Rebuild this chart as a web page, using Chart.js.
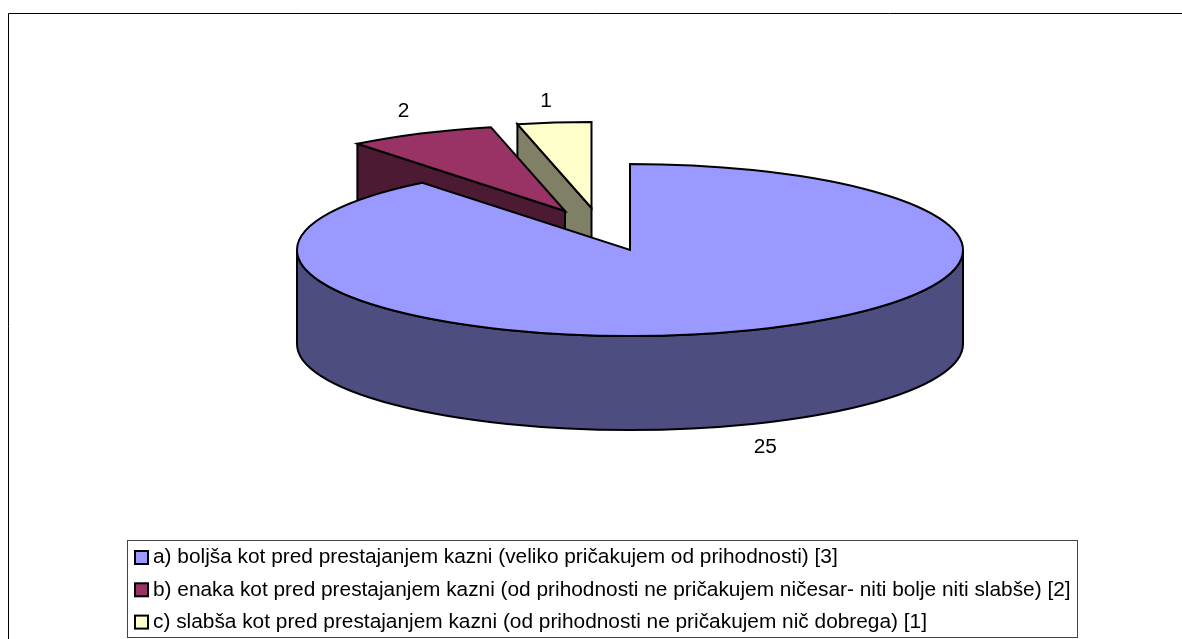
<!DOCTYPE html>
<html>
<head>
<meta charset="utf-8">
<title>3D pie</title>
<script src="https://cdn.jsdelivr.net/npm/chart.js@4/dist/chart.umd.min.js"></script>
<style>
    html, body { margin: 0; padding: 0; background: #fff; overflow: hidden; }
    canvas { display: block; }
</style>
</head>
<body>
<canvas id="pieChart" width="1182" height="639"></canvas>
<script>
const categories = [
    'a) boljša kot pred prestajanjem kazni (veliko pričakujem od prihodnosti) [3]',
    'b) enaka kot pred prestajanjem kazni (od prihodnosti ne pričakujem ničesar- niti bolje niti slabše) [2]',
    'c) slabša kot pred prestajanjem kazni (od prihodnosti ne pričakujem nič dobrega) [1]'
];
const answers = [25, 2, 1];
const topColors = ['#9999ff', '#993366', '#ffffcc'];
const wallColors = ['#4d4d80', '#4d1a33', '#808066'];

// Look of the tilted pie, all in canvas pixels
const radiusX = 333;
const radiusY = 86;
const depth = 94;
const explode = [[0, 0], [-65, -39], [-38.5, -42]];
const labelReach = [[1.23, 1.27], [1.118, 1.29], [1.22, 1.25]];
const fontFamily = '"Liberation Sans", Arial, sans-serif';

function outlineStyle(ctx) {
    ctx.strokeStyle = '#000';
    ctx.lineWidth = 2;
    ctx.lineJoin = 'miter';
}

// Chart.js only knows flat pies, so squash its arcs and add the walls by hand
const tiltedPie = {
    id: 'tiltedPie',
    beforeDatasetsDraw(chart) {
        const ctx = chart.ctx;
        const arcs = chart.getDatasetMeta(0).data;

        // back slices first, the big one covers their walls
        [2, 1, 0].forEach(i => {
            const arc = arcs[i];
            const cx = arc.x + explode[i][0];
            const cy = arc.y + explode[i][1];
            const start = arc.startAngle;
            const end = arc.endAngle;

            ctx.save();
            outlineStyle(ctx);

            // wall
            ctx.beginPath();
            if (i === 0) {
                ctx.ellipse(cx, cy, radiusX, radiusY, 0, 0, Math.PI);
                ctx.lineTo(cx - radiusX, cy + depth);
                ctx.ellipse(cx, cy + depth, radiusX, radiusY, 0, Math.PI, 0, true);
            } else {
                const ox = cx + radiusX * Math.cos(start);
                const oy = cy + radiusY * Math.sin(start);
                ctx.moveTo(ox, oy);
                ctx.lineTo(cx, cy);
                ctx.lineTo(cx, cy + depth);
                ctx.lineTo(ox, oy + depth);
            }
            ctx.closePath();
            ctx.fillStyle = wallColors[i];
            ctx.fill();
            ctx.stroke();

            // top face, drawn by the arc element itself
            ctx.save();
            ctx.translate(cx, cy);
            ctx.scale(radiusX / arc.outerRadius, radiusY / arc.outerRadius);
            ctx.translate(-arc.x, -arc.y);
            arc.draw(ctx);
            ctx.restore();

            ctx.beginPath();
            ctx.moveTo(cx, cy);
            ctx.ellipse(cx, cy, radiusX, radiusY, 0, start, end);
            ctx.closePath();
            ctx.stroke();
            ctx.restore();
        });

        // value labels
        ctx.save();
        ctx.fillStyle = '#000';
        ctx.font = '20.85px ' + fontFamily;
        ctx.textAlign = 'center';
        ctx.textBaseline = 'middle';
        arcs.forEach((arc, i) => {
            const mid = (arc.startAngle + arc.endAngle) / 2;
            const x = arc.x + explode[i][0] + labelReach[i][0] * radiusX * Math.cos(mid);
            let y = arc.y + explode[i][1] + labelReach[i][1] * radiusY * Math.sin(mid);
            if (Math.sin(mid) > 0) y += depth;
            ctx.fillText(String(answers[i]), x, y);
        });
        ctx.restore();

        return false;
    },
    afterDraw(chart) {
        const ctx = chart.ctx;
        ctx.save();

        // outer frame, runs off the right and bottom of the picture
        ctx.strokeStyle = '#000';
        ctx.lineWidth = 1;
        ctx.beginPath();
        ctx.moveTo(8.5, 640);
        ctx.lineTo(8.5, 13.5);
        ctx.lineTo(1183, 13.5);
        ctx.stroke();

        // legend box
        ctx.strokeStyle = '#444';
        ctx.strokeRect(127.5, 540.5, 950, 97);

        ctx.font = '20.85px ' + fontFamily;
        ctx.textAlign = 'left';
        ctx.textBaseline = 'middle';
        categories.forEach((label, i) => {
            const rowY = 557.5 + i * 32.3;
            ctx.fillStyle = topColors[i];
            ctx.fillRect(135, rowY - 6.5, 13, 13);
            ctx.strokeStyle = '#000';
            ctx.lineWidth = 2;
            ctx.strokeRect(135, rowY - 6.5, 13, 13);
            ctx.fillStyle = '#000';
            ctx.fillText(label, 153, rowY);
        });
        ctx.restore();
    }
};

new Chart(document.getElementById('pieChart'), {
    type: 'pie',
    data: {
        labels: categories,
        datasets: [{
            data: answers,
            backgroundColor: topColors,
            borderWidth: 0
        }]
    },
    options: {
        responsive: false,
        animation: false,
        // centres the flat pie at 630,250
        layout: { padding: { left: 78, right: 0, top: 0, bottom: 139 } },
        plugins: {
            legend: { display: false },
            tooltip: { enabled: false }
        }
    },
    plugins: [tiltedPie]
});
</script>
</body>
</html>
